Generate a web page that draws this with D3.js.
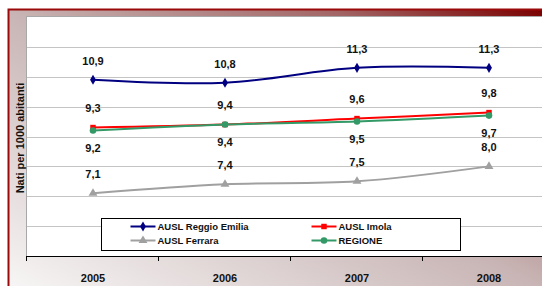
<!DOCTYPE html>
<html lang="it">
<head>
<meta charset="UTF-8">
<title>Nati per 1000 abitanti</title>
<script src="https://cdn.jsdelivr.net/npm/d3@7/dist/d3.min.js"></script>
<style>
  body { margin: 0; background: #fff; }
  svg { display: block; font-family: "Liberation Sans", Arial, sans-serif; }
  .lbl { font-size: 11px; font-weight: bold; fill: #111; }
  .legtext { font-size: 9.5px; font-weight: bold; fill: #111; }
</style>
</head>
<body>
<svg id="mainsvg" width="542" height="286"></svg>
<script>
  // data
  const years = ["2005", "2006", "2007", "2008"];
  const reggio = [10.9, 10.8, 11.3, 11.3];
  const imola = [9.3, 9.4, 9.6, 9.8];
  const regione = [9.2, 9.4, 9.5, 9.7];
  const ferrara = [7.1, 7.4, 7.5, 8.0];
  const seriesNames = ["AUSL Reggio Emilia", "AUSL Imola", "AUSL Ferrara", "REGIONE"];
  const yTicks = [5, 6, 7, 8, 9, 10, 11, 12, 13];

  const svg = d3.select('#mainsvg');
  const width = +svg.attr('width');
  const height = +svg.attr('height');
  const plot = { left: 27, top: 17, right: 555, bottom: 256 };

  // background gradient: light bottom-left -> dark red top-right
  const defs = svg.append('defs');
  const grad = defs.append('linearGradient').attr('id', 'bg')
    .attr('x1', 0).attr('y1', 1).attr('x2', 1).attr('y2', 0);
  grad.append('stop').attr('offset', 0).attr('stop-color', '#f7f5f5');
  grad.append('stop').attr('offset', 0.5).attr('stop-color', '#c8b4b4');
  grad.append('stop').attr('offset', 0.8).attr('stop-color', '#a36666');
  grad.append('stop').attr('offset', 1).attr('stop-color', '#7a0000');

  // frame
  svg.append('rect').attr('x', 9).attr('y', 10).attr('width', width - 9).attr('height', height - 10)
    .attr('fill', 'url(#bg)');
  svg.append('path').attr('d', `M8.5,${height} V9.5 H${width}`)
    .attr('fill', 'none').attr('stroke', '#9a0a0a').attr('stroke-width', 2);

  const x = d3.scaleBand().domain(years).range([plot.left, plot.right]).padding(0);
  const y = d3.scaleLinear().domain([5, 13]).range([plot.bottom, plot.top]);

  // plot area
  svg.append('rect').attr('x', plot.left).attr('y', plot.top)
    .attr('width', width - plot.left).attr('height', plot.bottom - plot.top)
    .attr('fill', '#fff');
  svg.append('path').attr('d', `M${plot.left - 0.5},${plot.bottom} V${plot.top - 0.5} H${width}`)
    .attr('fill', 'none').attr('stroke', '#a8a8a8').attr('stroke-width', 1);

  // grid
  svg.append('g').selectAll('line').data(yTicks.slice(1, -1)).join('line')
    .attr('x1', plot.left).attr('x2', width)
    .attr('y1', d => Math.round(y(d)) + 0.5).attr('y2', d => Math.round(y(d)) + 0.5)
    .attr('stroke', '#c4c4c4').attr('stroke-width', 1.2);

  // x axis
  const xAxis = d3.axisBottom(x).tickSize(0).tickPadding(0);
  const gx = svg.append('g').attr('transform', `translate(0, ${plot.bottom})`).call(xAxis);
  gx.select('.domain').remove();
  gx.selectAll('.tick text').attr('y', 18).attr('font-size', '11px').attr('font-weight', 'bold')
    .attr('font-family', '"Liberation Sans", Arial, sans-serif').attr('fill', '#111');
  gx.append('line').attr('x1', plot.left - 1).attr('x2', width).attr('y1', 0.5).attr('y2', 0.5)
    .attr('stroke', '#000').attr('stroke-width', 1);
  gx.selectAll('.bound').data(years.concat(['end'])).join('line')
    .attr('class', 'bound')
    .attr('x1', (d, i) => Math.round(plot.left + i * x.bandwidth()) - 0.5)
    .attr('x2', (d, i) => Math.round(plot.left + i * x.bandwidth()) - 0.5)
    .attr('y1', 0).attr('y2', 5).attr('stroke', '#000');

  // y title
  svg.append('text').attr('transform', `translate(24, 138) rotate(-90)`)
    .attr('text-anchor', 'middle').attr('font-size', '11px').attr('font-weight', 'bold')
    .attr('fill', '#111').text('Nati per 1000 abitanti');

  const cx = d => x(d) + x.bandwidth() / 2;
  const line = d3.line().x((d, i) => cx(years[i])).y(d => y(d)).curve(d3.curveCatmullRom.alpha(0.5));

  const series = [
    { name: seriesNames[0], values: reggio, color: '#000080', marker: d3.symbolDiamond, size: 30, dy: -15 },
    { name: seriesNames[1], values: imola, color: '#ff0000', marker: d3.symbolSquare, size: 30, dy: -16 },
    { name: seriesNames[2], values: ferrara, color: '#a0a0a0', marker: d3.symbolTriangle, size: 34, dy: -15 },
    { name: seriesNames[3], values: regione, color: '#339966', marker: d3.symbolCircle, size: 34, dy: 21 }
  ];
  const drawOrder = [series[2], series[0], series[1], series[3]];

  drawOrder.forEach(s => {
    const g = svg.append('g');
    g.append('path').attr('d', line(s.values)).attr('fill', 'none')
      .attr('stroke', s.color).attr('stroke-width', 2);
    g.selectAll('path.mk').data(s.values).join('path').attr('class', 'mk')
      .attr('transform', (d, i) => `translate(${cx(years[i])}, ${y(d)})`)
      .attr('d', d3.symbol().type(s.marker).size(s.size)).attr('fill', s.color);
    g.selectAll('text').data(s.values).join('text').attr('class', 'lbl')
      .attr('x', (d, i) => cx(years[i])).attr('y', d => y(d) + s.dy)
      .attr('text-anchor', 'middle')
      .text(d => d.toFixed(1).replace('.', ','));
  });

  // legend
  const leg = svg.append('g').attr('transform', 'translate(101.5, 218.5)');
  leg.append('rect').attr('width', 359).attr('height', 32)
    .attr('fill', '#fff').attr('stroke', '#000').attr('stroke-width', 1);
  const legPos = [[29, 8], [210, 8], [29, 22], [210, 22]];
  series.forEach((s, i) => {
    const [lx, ly] = legPos[i];
    const item = leg.append('g').attr('transform', `translate(${lx}, ${ly})`);
    item.append('line').attr('x1', 0).attr('x2', 25).attr('stroke', s.color).attr('stroke-width', 2);
    item.append('path').attr('transform', 'translate(12.5, 0)')
      .attr('d', d3.symbol().type(s.marker).size(s.size)).attr('fill', s.color);
    item.append('text').attr('class', 'legtext').attr('x', 27).attr('y', 3.5).text(s.name);
  });
</script>
</body>
</html>
